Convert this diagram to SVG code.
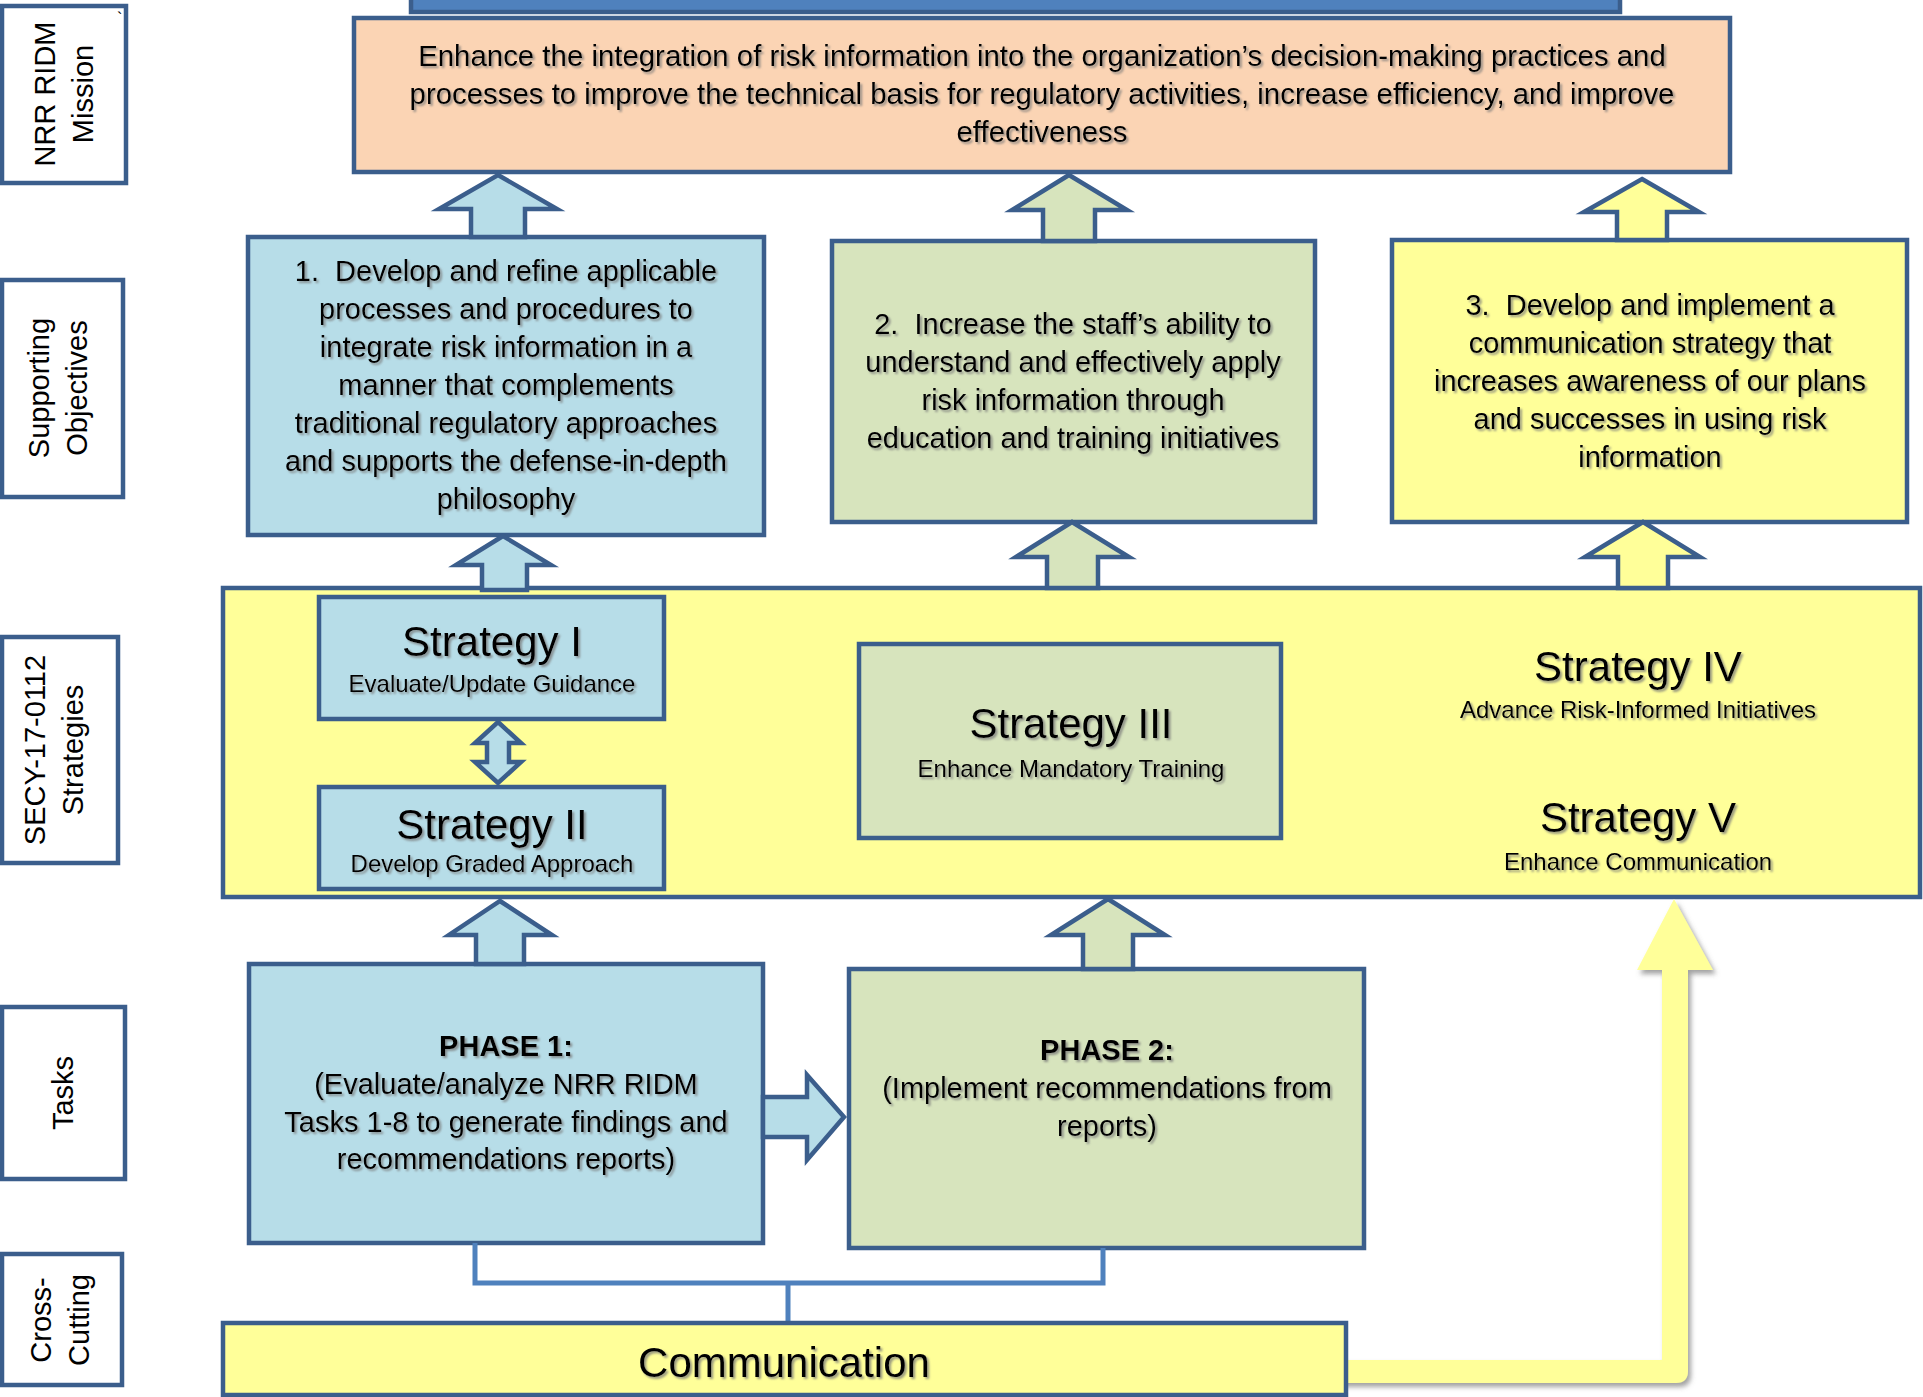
<svg xmlns="http://www.w3.org/2000/svg" width="1923" height="1397" viewBox="0 0 1923 1397">
<defs>
<filter id="ts" x="-5%" y="-20%" width="110%" height="140%">
<feDropShadow dx="2" dy="2" stdDeviation="1" flood-color="#777" flood-opacity="0.75"/>
</filter>
<filter id="ash" x="-10%" y="-10%" width="130%" height="130%">
<feDropShadow dx="3" dy="4" stdDeviation="2.5" flood-color="#666" flood-opacity="0.6"/>
</filter>
</defs>
<style>
.bx{stroke:#3B5E8C;stroke-width:4.5;stroke-linejoin:miter}
.lbl{fill:#fff}
.blue{fill:#B7DDE8}
.green{fill:#D7E4BD}
.yel{fill:#FFFF99}
.org{fill:#FBD4B4}
text{font-family:"Liberation Sans",Arial,sans-serif;fill:#000}
.lt{font-size:29px;text-anchor:middle}
.t{font-size:29px;text-anchor:middle;filter:url(#ts)}
.mt{font-size:29.4px}
.st{font-size:42px;text-anchor:middle;filter:url(#ts)}
.ss{font-size:24px;text-anchor:middle;filter:url(#ts)}
.b{font-weight:bold}
.arr{stroke:#3B5E8C;stroke-width:4.5;stroke-linejoin:miter}
.con{fill:none;stroke:#4F81BD;stroke-width:5}
</style>

<g id="top-bar"><rect x="411" y="-6" width="1209" height="18" fill="#4F81BD" class="bx"/></g>

<g id="label-mission">
<rect x="2" y="6" width="124" height="177" class="lbl bx"/>
<text x="117" y="24" font-size="16">`</text>
<g transform="translate(0,94) rotate(-90)"><text class="lt" x="0" y="55">NRR RIDM</text><text class="lt" x="0" y="93">Mission</text></g>
</g>
<g id="label-objectives">
<rect x="2" y="280" width="121" height="217" class="lbl bx"/>
<g transform="translate(0,388) rotate(-90)"><text class="lt" x="0" y="49">Supporting</text><text class="lt" x="0" y="87">Objectives</text></g>
</g>
<g id="label-strategies">
<rect x="2" y="637" width="116" height="226" class="lbl bx"/>
<g transform="translate(0,750) rotate(-90)"><text class="lt" x="0" y="45">SECY-17-0112</text><text class="lt" x="0" y="83">Strategies</text></g>
</g>
<g id="label-tasks">
<rect x="2" y="1007" width="123" height="172" class="lbl bx"/>
<g transform="translate(0,1093) rotate(-90)"><text class="lt" x="0" y="73">Tasks</text></g>
</g>
<g id="label-crosscutting">
<rect x="2" y="1254" width="120" height="131" class="lbl bx"/>
<g transform="translate(0,1320) rotate(-90)"><text class="lt" x="0" y="51">Cross-</text><text class="lt" x="0" y="89">Cutting</text></g>
</g>

<g id="mission">
<rect x="354" y="18" width="1376" height="154" class="org bx"/>
<text class="t mt" x="1042" y="66">Enhance the integration of risk information into the organization’s decision-making practices and</text>
<text class="t mt" x="1042" y="104">processes to improve the technical basis for regulatory activities, increase efficiency, and improve</text>
<text class="t mt" x="1042" y="142">effectiveness</text>
</g>

<g id="objective-1">
<rect x="248" y="237" width="516" height="298" class="blue bx"/>
<text class="t" x="506" y="281">1.&#160; Develop and refine applicable</text>
<text class="t" x="506" y="319">processes and procedures to</text>
<text class="t" x="506" y="357">integrate risk information in a</text>
<text class="t" x="506" y="395">manner that complements</text>
<text class="t" x="506" y="433">traditional regulatory approaches</text>
<text class="t" x="506" y="471">and supports the defense-in-depth</text>
<text class="t" x="506" y="509">philosophy</text>
</g>
<g id="objective-2">
<rect x="832" y="241" width="483" height="281" class="green bx"/>
<text class="t" x="1073" y="334">2.&#160; Increase the staff’s ability to</text>
<text class="t" x="1073" y="372">understand and effectively apply</text>
<text class="t" x="1073" y="410">risk information through</text>
<text class="t" x="1073" y="448">education and training initiatives</text>
</g>
<g id="objective-3">
<rect x="1392" y="240" width="515" height="282" class="yel bx"/>
<text class="t" x="1650" y="315">3.&#160; Develop and implement a</text>
<text class="t" x="1650" y="353">communication strategy that</text>
<text class="t" x="1650" y="391">increases awareness of our plans</text>
<text class="t" x="1650" y="429">and successes in using risk</text>
<text class="t" x="1650" y="467">information</text>
</g>

<g id="strategies">
<rect x="223" y="588" width="1697" height="309" class="yel bx"/>
</g>
<g id="strategy-1">
<rect x="319" y="597" width="345" height="122" class="blue bx"/>
<text class="st" x="492" y="656">Strategy I</text>
<text class="ss" x="492" y="692">Evaluate/Update Guidance</text>
</g>
<g id="strategy-2">
<rect x="319" y="787" width="345" height="102" class="blue bx"/>
<text class="st" x="492" y="839">Strategy II</text>
<text class="ss" x="492" y="872">Develop Graded Approach</text>
</g>
<g id="strategy-3">
<rect x="859" y="644" width="422" height="194" class="green bx"/>
<text class="st" x="1071" y="738">Strategy III</text>
<text class="ss" x="1071" y="777">Enhance Mandatory Training</text>
</g>
<g id="strategy-4">
<text class="st" x="1638" y="681">Strategy IV</text>
<text class="ss" x="1638" y="718">Advance Risk-Informed Initiatives</text>
</g>
<g id="strategy-5">
<text class="st" x="1638" y="832">Strategy V</text>
<text class="ss" x="1638" y="870">Enhance Communication</text>
</g>

<g id="phase-1">
<rect x="249" y="964" width="514" height="279" class="blue bx"/>
<text class="t b" x="506" y="1056">PHASE 1:</text>
<text class="t" x="506" y="1094">(Evaluate/analyze NRR RIDM</text>
<text class="t" x="506" y="1132">Tasks 1-8 to generate findings and</text>
<text class="t" x="506" y="1169">recommendations reports)</text>
</g>
<g id="phase-2">
<rect x="849" y="969" width="515" height="279" class="green bx"/>
<text class="t b" x="1107" y="1060">PHASE 2:</text>
<text class="t" x="1107" y="1098">(Implement recommendations from</text>
<text class="t" x="1107" y="1136">reports)</text>
</g>

<g id="connectors">
<path class="con" d="M475,1243 V1283 H1103 V1248 M788,1283 V1323"/>
<path d="M1330,1360 H1662 V970 H1637 L1674,899 L1713,970 H1688 V1371 Q1688,1383 1676,1383 H1330 Z" fill="#FFFF99" filter="url(#ash)"/>
<polygon class="arr blue" points="498,175 557,209 525,209 525,237 471,237 471,209 439,209"/>
<polygon class="arr green" points="1069,175 1127,210 1095,210 1095,241 1043,241 1043,210 1012,210"/>
<polygon class="arr yel" points="1642,179 1699,212 1667,212 1667,240 1617,240 1617,212 1584,212"/>
<polygon class="arr blue" points="503,536 551,565 527,565 527,590 482,590 482,565 456,565"/>
<polygon class="arr green" points="1072,522 1129,557 1098,557 1098,588 1047,588 1047,557 1016,557"/>
<polygon class="arr yel" points="1643,522 1700,557 1668,557 1668,588 1618,588 1618,557 1585,557"/>
<polygon class="arr blue" points="498,722 521,743 509,743 509,762 521,762 498,783 475,762 487,762 487,743 475,743"/>
<polygon class="arr blue" points="500,901 552,935 524,935 524,964 476,964 476,935 449,935"/>
<polygon class="arr green" points="1108,899 1165,935 1133,935 1133,969 1083,969 1083,935 1051,935"/>
<polygon class="arr blue" points="763,1097 807,1097 807,1075 844,1117 807,1160 807,1137 763,1137"/>
</g>

<g id="communication">
<rect x="223" y="1323" width="1123" height="72" class="yel bx"/>
<text class="st" x="784" y="1377">Communication</text>
</g>
</svg>
